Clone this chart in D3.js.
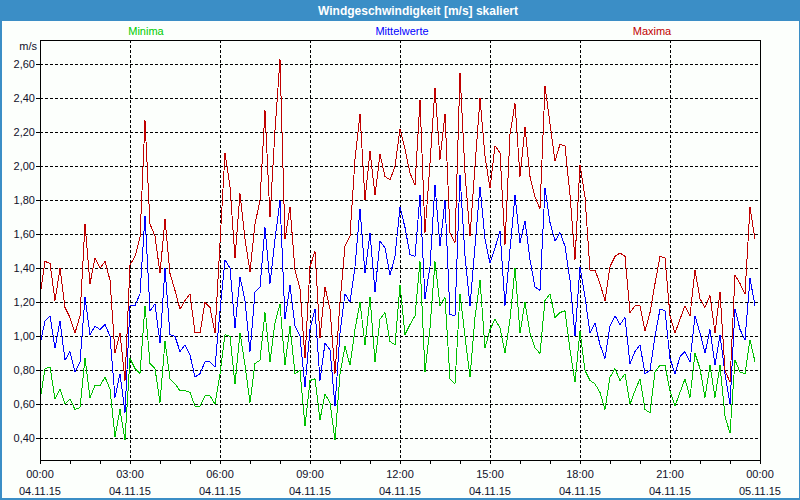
<!DOCTYPE html>
<html><head><meta charset="utf-8">
<script src="https://cdn.jsdelivr.net/npm/d3@7"></script>
<style>
html,body{margin:0;padding:0;background:#fff;}
svg{display:block;font-family:"Liberation Sans",Arial,sans-serif;}
</style></head>
<body>
<svg id="chart" width="800" height="500"></svg>
<script>
const title = "Windgeschwindigkeit [m/s] skaliert";
const unitLabel = "m/s";
const seriesNames = ["Minima", "Mittelwerte", "Maxima"];
const seriesColors = ["#00c000", "#0000ff", "#c00000"];
const legendColors = ["#00cc00", "#0000ff", "#c00000"];
const yTicks = [0.4, 0.6, 0.8, 1.0, 1.2, 1.4, 1.6, 1.8, 2.0, 2.2, 2.4, 2.6];
const xTickHours = [0, 3, 6, 9, 12, 15, 18, 21, 24];
const xTimeLabels = ["00:00","03:00","06:00","09:00","12:00","15:00","18:00","21:00","00:00"];
const xDateLabels = ["04.11.15","04.11.15","04.11.15","04.11.15","04.11.15","04.11.15","04.11.15","04.11.15","05.11.15"];
const stepMinutes = 10;

const maxima = [1.24,1.44,1.43,1.21,1.40,1.17,1.11,1.02,1.12,1.66,1.31,1.46,1.40,1.44,1.33,0.90,1.02,0.74,1.42,1.47,
1.58,2.27,1.66,1.59,1.37,1.69,1.37,1.27,1.16,1.21,1.25,1.02,1.02,1.20,1.17,1.02,1.55,2.08,1.88,1.46,
1.84,1.57,1.38,1.66,1.80,2.33,1.70,2.21,2.63,1.57,1.76,1.39,1.28,0.87,1.41,1.50,0.99,1.29,1.16,0.78,
1.20,1.53,1.59,2.04,2.31,1.80,2.09,1.83,2.07,1.94,1.92,2.00,2.22,2.10,1.96,1.89,2.39,1.61,2.02,2.46,
2.04,2.31,1.61,1.55,2.55,1.96,1.59,2.00,2.40,2.06,1.87,2.12,2.08,1.54,2.19,2.37,1.94,2.23,1.94,1.82,
1.75,2.47,2.25,2.03,2.13,2.12,1.83,1.45,2.01,1.82,1.39,1.39,1.31,1.21,1.41,1.47,1.49,1.47,1.14,1.18,
1.18,1.03,1.14,1.31,1.47,1.46,1.12,1.02,1.10,1.18,1.12,1.39,1.22,1.17,1.24,1.02,1.26,0.80,0.73,1.36,
1.31,1.25,1.76,1.57];

const mittel = [0.95,1.09,1.12,0.93,1.09,0.86,0.91,0.79,0.85,1.23,1.01,1.06,1.04,1.07,1.00,0.64,0.78,0.55,1.18,1.18,
1.25,1.71,1.15,1.19,0.96,1.40,1.01,1.00,0.91,0.95,0.89,0.76,0.78,0.85,0.85,0.82,1.15,1.45,1.40,1.05,
1.35,1.21,0.91,1.26,1.29,1.64,1.31,1.57,1.80,1.10,1.30,1.06,1.00,0.70,1.04,1.16,0.74,0.96,0.92,0.59,
1.02,1.25,1.20,1.41,1.75,1.37,1.61,1.26,1.56,1.52,1.36,1.47,1.76,1.64,1.48,1.47,1.83,1.22,1.41,1.89,
1.53,1.80,1.13,1.12,1.95,1.47,1.18,1.53,1.88,1.57,1.43,1.52,1.62,1.18,1.51,1.83,1.55,1.68,1.45,1.29,
1.27,1.87,1.67,1.56,1.61,1.53,1.33,1.00,1.41,1.23,1.02,1.08,0.95,0.87,1.06,1.12,1.07,1.11,0.84,0.91,
0.95,0.78,0.80,1.00,1.16,1.15,0.87,0.78,0.88,0.91,0.85,1.12,1.02,0.90,1.04,0.83,1.01,0.78,0.60,1.16,
1.04,0.98,1.34,1.18];

const minima = [0.62,0.81,0.82,0.63,0.69,0.60,0.63,0.57,0.58,0.87,0.64,0.71,0.71,0.76,0.69,0.41,0.57,0.39,0.87,0.81,
0.78,1.18,0.84,0.81,0.61,0.97,0.75,0.72,0.68,0.68,0.67,0.59,0.59,0.65,0.65,0.60,0.78,1.01,1.00,0.72,
1.02,0.83,0.61,0.84,0.86,1.14,0.85,1.08,1.19,0.83,1.06,0.78,0.80,0.47,0.74,0.75,0.51,0.66,0.61,0.39,
0.78,0.94,0.83,1.04,1.20,0.95,1.23,0.85,1.10,1.14,0.97,0.95,1.30,1.01,1.07,1.12,1.44,0.79,1.05,1.44,
1.18,1.23,0.75,0.72,1.25,1.00,0.76,1.11,1.33,0.93,1.04,1.10,1.05,0.90,1.10,1.40,1.02,1.20,1.02,0.93,
0.90,1.21,1.25,1.11,1.14,1.15,0.92,0.73,1.03,0.80,0.74,0.72,0.67,0.57,0.76,0.81,0.74,0.78,0.60,0.68,
0.75,0.57,0.55,0.79,0.83,0.83,0.68,0.59,0.67,0.75,0.64,0.90,0.81,0.64,0.83,0.64,0.83,0.53,0.43,0.86,
0.79,0.78,0.98,0.85];

const svg = d3.select("#chart");
const W = 800, H = 500;
const L = 40, R = 760, T = 40, B = 460;
const textColor = "#10102a";

// window frame
svg.append("rect").attr("x",0).attr("y",0).attr("width",W).attr("height",H).attr("fill","#3b8ec6");
svg.append("rect").attr("x",2).attr("y",21).attr("width",W-3).attr("height",H-23).attr("fill","#fcfffc");
svg.append("text").attr("x",418).attr("y",15).attr("text-anchor","middle")
  .attr("fill","#fff").attr("font-weight","bold").attr("font-size","12px").text(title);

const x = d3.scaleLinear().domain([0, 24]).range([L, R]);
const y = d3.scaleLinear().domain([0.2724, 2.743]).range([B, T]);
const px = v => Math.round(v) + 0.5;

// legend
const legendX = [146, 402, 652];
seriesNames.forEach((n,i)=>{
  svg.append("text").attr("x",legendX[i]).attr("y",35).attr("text-anchor","middle")
    .attr("font-size","11px").attr("fill",legendColors[i]).text(n);
});
svg.append("text").attr("x",37).attr("y",50).attr("text-anchor","end").attr("font-size","11px").attr("fill",textColor).text(unitLabel);

// grid
const g = svg.append("g").attr("shape-rendering","crispEdges");
yTicks.forEach(t=>{
  g.append("line").attr("x1",L).attr("x2",R).attr("y1",px(y(t))).attr("y2",px(y(t)))
   .attr("stroke","#000").attr("stroke-dasharray","3,2");
  g.append("line").attr("x1",L-4).attr("x2",L).attr("y1",px(y(t))).attr("y2",px(y(t))).attr("stroke","#000");
});
xTickHours.forEach(h=>{
  if(h>0 && h<24) g.append("line").attr("x1",px(x(h))).attr("x2",px(x(h))).attr("y1",T).attr("y2",B)
   .attr("stroke","#000").attr("stroke-dasharray","3,2");
});
d3.range(0,25).forEach(h=>{
  g.append("line").attr("x1",px(x(h))).attr("x2",px(x(h))).attr("y1",B).attr("y2",B+4).attr("stroke","#000");
});

// y labels
const fmt = d3.format(".2f");
yTicks.forEach(t=>{
  svg.append("text").attr("x",35).attr("y",y(t)+4).attr("text-anchor","end").attr("font-size","11px")
   .attr("fill",textColor).text(fmt(t).replace(".",","));
});
// x labels
xTickHours.forEach((h,i)=>{
  svg.append("text").attr("x",x(h)).attr("y",478).attr("text-anchor","middle").attr("font-size","11px").attr("fill",textColor).text(xTimeLabels[i]);
  svg.append("text").attr("x",x(h)).attr("y",495).attr("text-anchor","middle").attr("font-size","11px").attr("fill",textColor).text(xDateLabels[i]);
});

// series
const line = d3.line().x((d,i)=>x(i*stepMinutes/60)).y(d=>y(d));
[minima, mittel, maxima].forEach((s,i)=>{
  svg.append("path").datum(s).attr("d",line).attr("fill","none")
    .attr("stroke",seriesColors[i]).attr("stroke-width",1).attr("shape-rendering","crispEdges");
});

// plot frame
svg.append("rect").attr("x",L+0.5).attr("y",T+0.5).attr("width",R-L).attr("height",B-T)
  .attr("fill","none").attr("stroke","#000").attr("shape-rendering","crispEdges");
</script>
</body></html>
